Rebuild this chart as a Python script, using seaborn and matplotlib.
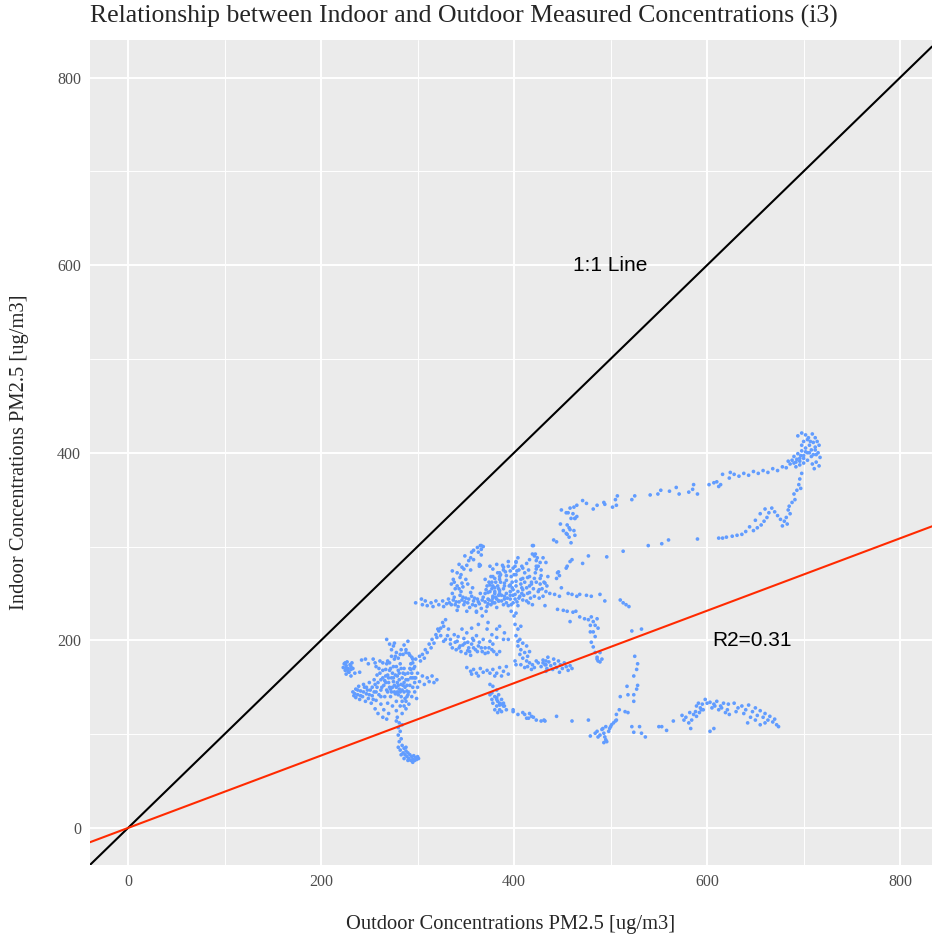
import matplotlib
matplotlib.use("Agg")
import matplotlib.pyplot as plt
from matplotlib.ticker import MultipleLocator
import pandas as pd
import seaborn as sns

# ---- measurements (outdoor, indoor) PM2.5 in ug/m3, grouped by episode ----
west_blob = [(223,171),(224,175),(225,168),(226,173),(227,177),(228,170),(229,166),(230,174),
             (231,169),(232,176),(225,176),(228,167),(231,172),(233,170),(226,170),(226,164),
             (231,162),(235,165),(240,166),(242,179),(246,180),(249,175),(254,180),(256,176),
             (257,172),(261,178),(264,176),(268,201),(271,196),(273,190),(275,194),(276,197),
             (278,187),(280,181),(269,178),(267,169)]

west_core = [(233,145),(236,148),(238,142),(241,146),(243,140),(245,150),(247,143),(249,138),
             (251,147),(253,141),(255,145),(257,136),(258,150),(260,142),(262,147),(240,137),
             (246,135),(252,133),(236,139),(244,153),(250,155),(256,153),(234,141),(239,151),
             (248,147),(254,137),
             (262,158),(265,152),(267,162),(268,147),(270,155),(271,168),(272,140),(273,160),
             (274,150),(275,172),(276,145),(277,163),(278,135),(279,155),(280,168),(281,148),
             (282,175),(283,140),(284,160),(285,152),(286,170),(287,138),(288,158),(289,146),
             (290,165),(291,132),(292,152),(293,175),(264,168),(266,140),(269,133),(271,176),
             (274,130),(276,180),(278,125),(280,142),(282,130),(284,122),(286,145),(288,127),
             (262,132),(265,126),(268,175),(270,122),(296,170),(298,160),(300,150),(297,145),
             (294,140),(295,160),(299,138),(258,163),(260,170),(256,127),(259,122),(264,118),
             (268,116),(272,148),(275,156),(278,150),(281,158),(284,147),(286,155),(289,152),
             (277,143),(283,153),(279,162),(274,165),(287,164),(290,158),(285,185),(288,190),
             (291,186),(294,182),(282,185),(277,183),(273,183),(288,187),(292,184),(295,180),
             (283,190),(286,195),(290,199),
             (263,150),(266,157),(269,163),(271,150),(273,145),(276,152),(279,145),(281,165),
             (283,170),(285,165),(287,150),(289,140),(291,145),(293,160),(295,150),(297,155),
             (270,160),(272,170),(275,160),(278,172),(280,152),(282,145),(284,135),(286,130),
             (288,135),(290,142),(292,170),(294,165),(267,155),(269,145),(262,140),(259,155),
             (257,145),(255,158),(253,150),(250,142),(247,150),(244,145),(241,141),(238,147),
             (235,143),(261,165),(264,160)]

south_tail = [(279,118),(281,112),(280,107),(282,103),(280,99),(283,95),(281,92),(284,110),
              (278,114),(280,86),(282,83),(284,88),(285,80),(286,85),(287,78),(288,82),(289,76),
              (290,80),(291,74),(292,78),(293,72),(294,76),(295,73),(296,77),(297,72),(298,75),
              (299,73),(300,76),(301,74),(283,78),(286,74),(290,72),(295,70),(288,86)]

rise = [(295,176),(298,180),(302,183),(305,185),(303,178),(307,181),(310,187),(308,190),
        (314,192),(312,196),(317,197),(315,201),(320,203),(319,206),(322,210),(324,213),
        (327,215),(326,219),(329,222),(331,205),(334,201),(327,199),(332,212),(293,169),
        (297,172),(300,165),(305,162),(310,160),(315,162),(320,158),(317,155),(312,156),
        (307,153),(302,156),(297,160)]

upper_band = [(298,240),(304,244),(305,238),(308,242),(310,237),(314,240),(316,236),(319,242),
              (322,238),(326,242),(327,236),(330,239),(332,244),(335,238),(338,246),(340,241),
              (342,236),(344,248),(346,243),(348,238),(350,245),(352,240),(354,235),(356,247),
              (358,242),(360,237),(362,244),(364,239),(366,234),(368,246),(370,241),(372,236),
              (374,243),(376,238),(378,245),(380,240),(382,235),(384,242),(336,250),(345,252),
              (355,251),(365,250),(341,232),(351,231),(361,230),(371,231),(339,255),(347,257),
              (357,256),(333,240),(337,243),(343,241),(347,246),(353,244),(357,238),(363,241),
              (367,243),(373,239),(377,242),(381,246),(359,245),(349,241),(339,238)]

bump = [(365,301),(366,297),(363,294),(356,294),(355,288),(358,286),(353,285),(364,281),
        (365,280),(336,274),(341,272),(337,265),(344,267),(346,261),(341,258),(348,276),
        (351,280),(343,281),(335,260),(345,270),(350,265),(355,275),(349,290),(358,296),
        (362,299),(346,278),(352,260),(338,262),(343,255)]

cloud_north = [(375,279),(378,276),(382,281),(385,272),(389,278),(392,269),(396,274),(401,279),
               (402,270),(407,265),(411,272),(414,267),(418,262),(423,276),(428,269),(431,262),
               (426,254),(421,247),(416,251),(409,254),(406,247),(401,249),(396,244),(390,247),
               (385,253),(380,256),(377,262),(372,258),(373,251),(378,247),(384,242),(389,238),
               (394,237),(399,240),(404,237),(413,242),(419,238),(430,247),(432,237),(433,283),
               (430,288),(425,279),(419,301),(419,292),(421,290),(423,285),(404,288),(402,283),
               (366,301),(368,300),(366,291),(420,301),(422,292),(416,286),(424,288),(427,283),
               (423,279),(428,275),(413,282),(408,279),(402,284),(399,277),(394,279),(389,275),
               (383,272),(378,268),(385,265),(390,261),(396,259),(402,263),(409,266),(416,268),
               (422,272),(427,266),(432,261),(435,268),(434,258),(375,259),(371,254),(380,252),
               (370,265),(385,250),(399,254),(408,250),(416,258),(425,252),(364,279),
               (374,262),(377,255),(380,250),(383,258),(386,262),(389,255),(392,250),(395,258),
               (398,262),(380,266),(386,270),(392,264),(398,256),(373,244),(378,240),(384,248),
               (390,244),(396,248),(401,244),(404,252),(407,260),(410,248),(413,256),(418,260),
               (370,250),(376,268),(388,280),(394,284),(400,270),(405,275),
               (375,252),(378,258),(381,262),(384,255),(387,248),(390,258),(393,245),(396,252),
               (399,248),(402,258),(405,245),(408,256),(411,262),(414,250),(417,245),(420,255),
               (423,262),(426,245),(429,255),(382,244),(387,242),(392,240),(397,238),(403,241),
               (409,243),(415,240),(385,268),(391,273),(397,268),(403,274),(409,277),(415,275),
               (421,266),(427,260),(433,252)]

mid_band = [(321,212),(324,205),(329,201),(334,196),(338,206),(341,199),(344,194),(349,197),
            (353,192),(356,196),(360,190),(363,194),(367,188),(370,192),(373,187),(377,190),
            (382,185),(385,188),(346,212),(351,208),(356,213),(361,205),(368,201),(375,199),
            (378,196),(361,231),(367,226),(373,219),(372,212),(377,206),(382,203),(363,217),
            (385,215),(390,208),(394,201),(389,201),(382,212),(340,190),(345,188),(350,186),
            (355,184),(348,202),(358,200),(364,198),(336,192),(342,204),(352,189),
            (343,192),(347,195),(354,188),(358,192),(362,188),(366,192),(370,186),(374,192),
            (379,188),(357,202),(352,198),(339,198)]

band_167 = [(351,171),(355,167),(358,169),(361,165),(365,170),(368,166),(372,168),(375,165),
            (378,169),(382,165),(385,171),(389,167),(392,172),(394,164),(356,164),(363,162),
            (380,162),(387,162)]

east_column = [(401,217),(404,212),(407,215),(402,205),(406,201),(409,197),(404,194),(407,190),
               (411,187),(414,183),(406,185),(409,181),(413,178),(416,176),(419,174),(423,178),
               (407,174),(411,171),(414,172),(418,169),(421,171),(402,174),(401,178),(404,199),
               (413,194),(416,188),(400,226),(397,231),(402,229),(430,176),(433,174),(433,178)]

fit_cluster = [(425,176),(428,172),(430,179),(432,174),(434,170),(436,177),(438,173),(440,169),
               (442,175),(444,171),(446,178),(448,174),(450,170),(452,176),(454,172),(456,168),
               (458,173),(460,170),(435,182),(441,180),(433,167),(447,166)]

below_fit = [(375,153),(378,151),(382,147),(377,144),(380,140),(384,142),(387,137),(389,133),
             (390,130),(385,131),(392,126),(382,137),(375,142),(382,139),(383,135),(385,133),
             (387,132),(389,130),(377,137),(378,133),(382,130),(385,126),(387,124),(383,123),
             (380,126),(399,124),(404,121),(409,123),(413,117),(418,119),(423,115),(428,114),
             (431,115),(399,126),(411,121),(416,122),(420,118),(415,117),(432,114),(444,119),
             (460,114),(477,115)]

north_sparse = [(437,250),(442,249),(447,247),(449,256),(456,250),(460,249),(465,247),(468,249),
                (475,248),(480,247),(489,249),(494,242),(510,243),(513,240),(516,238),(519,236),
                (445,233),(451,232),(455,231),(461,230),(464,231),(458,220),(468,225),(460,286),
                (458,284),(455,279),(454,277),(471,282),(446,273),(445,272),(447,269),(444,266)]

dip_column = [(473,223),(477,222),(480,225),(482,220),(484,216),(479,216),(486,223),(487,213),
              (482,209),(479,209),(484,204),(480,198),(482,193),(484,187),(486,182),(487,178),
              (489,177),(486,180),(491,180),(489,187),(522,210),(532,212)]

south_drop = [(525,183),(528,175),(527,169),(524,162),(528,152),(527,148),(524,142),(524,135),
              (517,151),(518,142),(510,140),(515,124),(509,126),(518,123),(506,121)]

trough = [(479,98),(484,101),(486,103),(489,99),(491,105),(493,101),(494,97),(495,94),(496,92),
          (498,103),(499,106),(500,108),(501,110),(503,112),(505,114),(506,115),(495,108),
          (492,106),(487,97),(493,91),(522,108),(530,108),(532,101),(536,97),(524,102),
          (550,108),(553,108),(558,104),(565,114)]

plateau = [(574,120),(576,115),(578,118),(581,112),(583,106),(586,121),(588,124),(589,130),
           (591,133),(593,128),(595,132),(596,126),(598,137),(600,133),(603,103),(607,106),
           (584,115),(582,123),(589,119),(592,123),(594,126),(603,134),(607,132),(610,135),
           (614,130),(617,133),(621,126),(622,132),(619,123),(612,126),(605,128),(608,130),
           (615,128),(623,121),(628,133),(632,128),(636,130),(640,126),(643,131),(647,124),
           (650,128),(652,120),(655,125),(658,118),(660,122),(663,115),(665,119),(668,113),
           (670,116),(672,110),(674,108),(645,118),(638,122),(630,124),(660,112),(650,115),
           (655,110),(642,112)]

upper_arc = [(449,339),(458,341),(462,342),(465,344),(471,349),(475,346),(482,340),(486,344),
             (493,347),(494,345),(502,342),(506,344),(505,350),(507,354),(522,350),(525,354),
             (541,355),(549,356),(552,360),(561,359),(568,363),(571,356),(581,358),(585,361),
             (586,366),(590,356),(602,366),(607,368),(610,369),(612,364),(614,366),(616,377),
             (623,373),(624,379),
             (454,336),(456,336),(461,335),(463,330),(459,330),(463,330),(465,332),(448,324),
             (455,323),(457,320),(458,318),(462,317),(451,317),(454,314),(455,313),(463,312),
             (457,310),(459,304),(441,307),(444,305),
             (477,290),(496,289),(513,295),(539,301),(553,303),(560,307),(590,308),(612,309)]

peak = [(628,377),(633,375),(638,378),(643,376),(648,380),(653,378),(658,381),(663,379),
        (668,383),(673,381),(678,385),(682,384),(686,388),(688,392),(690,396),(692,390),
        (694,399),(696,394),(698,402),(700,397),(702,405),(704,400),(706,408),(708,403),
        (710,411),(712,406),(694,418),(698,421),(702,419),(705,416),(709,420),(712,416),
        (714,412),(716,408),(715,400),(717,395),(713,398),(708,396),(704,392),(700,389),
        (696,387),(692,385),(712,403),(706,400),(700,394),(696,391),(690,389),(684,391),
        (713,390),(716,386),(709,388),(711,383),(700,412),(704,414),(698,408),(707,412),
        (710,398),(702,401),(697,397),(693,393)]

peak_descent = [(698,378),(696,372),(695,366),(697,362),(693,360),(690,356),(691,350),(688,347),
                (685,343),(684,339),(686,335),(682,331),(680,327),(683,324),(678,322),(676,329),
                (673,333),(670,337),(667,341),(664,336),(662,331),(659,327),(656,323),(652,320),
                (648,317),(644,321),(640,316),(636,313),(631,312),(626,311),(620,310),(616,309),
                (655,335),(660,340),(650,328)]

identity_slope = 1.0
fit_slope = 0.386
fit_label = "R2=0.31"
x_ticks = [0, 200, 400, 600, 800]
y_ticks = [0, 200, 400, 600, 800]

episodes = [west_blob, west_core, south_tail, rise, upper_band, bump, cloud_north, mid_band,
            band_167, east_column, fit_cluster, below_fit, north_sparse, dip_column, south_drop,
            trough, plateau, upper_arc, peak, peak_descent]
df = pd.DataFrame([p for ep in episodes for p in ep], columns=["outdoor", "indoor"])

# ---- styling in the spirit of ggplot's grey theme ----
sns.set_style("darkgrid", {"axes.facecolor": "#EBEBEB", "grid.color": "white"})
plt.rcParams["font.family"] = ["Liberation Serif", "DejaVu Serif"]

W, H = 932, 942
fig = plt.figure(figsize=(W / 100, H / 100), dpi=100)
fig.patch.set_facecolor("white")
left, right, top, bottom = 90, 932, 40, 865
ax = fig.add_axes([left / W, 1 - bottom / H, (right - left) / W, (bottom - top) / H])

sns.scatterplot(data=df, x="outdoor", y="indoor", ax=ax, s=7, color="#619CFF",
                edgecolor="none", linewidth=0, zorder=3, legend=False)
ax.axline((0, 0), slope=identity_slope, color="black", lw=1.5, zorder=4)
ax.axline((0, 0), slope=fit_slope, color="#FF2A00", lw=1.5, zorder=4)

ax.set_xlim(-39.4, 833)
ax.set_ylim(-39.5, 840)
ax.set_xticks(x_ticks)
ax.set_yticks(y_ticks)
ax.xaxis.set_minor_locator(MultipleLocator(100))
ax.yaxis.set_minor_locator(MultipleLocator(100))
ax.grid(which="major", color="white", lw=1.4)
ax.grid(which="minor", color="white", lw=0.7)
ax.set_axisbelow(True)
for sp in ax.spines.values():
    sp.set_visible(False)
ax.tick_params(which="major", length=3.5, width=0.8, color="#333333", pad=3,
               labelsize=11.5, labelcolor="#4D4D4D")
ax.tick_params(which="minor", length=0)
ax.set_xlabel("")
ax.set_ylabel("")

ax.text(500, 600, "1:1 Line", family=["Liberation Sans", "DejaVu Sans"], fontsize=15,
        ha="center", va="center", color="black")
ax.text(647, 200, fit_label, family=["Liberation Sans", "DejaVu Sans"], fontsize=15,
        ha="center", va="center", color="black")

fig.text(left / W, 1 - 16 / H, "Relationship between Indoor and Outdoor Measured Concentrations (i3)",
         fontsize=18.5, ha="left", va="center")
fig.text((left + right) / 2 / W, 1 - 925 / H, "Outdoor Concentrations PM2.5 [ug/m3]",
         fontsize=14.8, ha="center", va="center")
fig.text(20 / W, 1 - (top + bottom) / 2 / H, "Indoor Concentrations PM2.5 [ug/m3]",
         fontsize=14.8, ha="center", va="center", rotation=90)

fig.savefig("out.png", dpi=100)
